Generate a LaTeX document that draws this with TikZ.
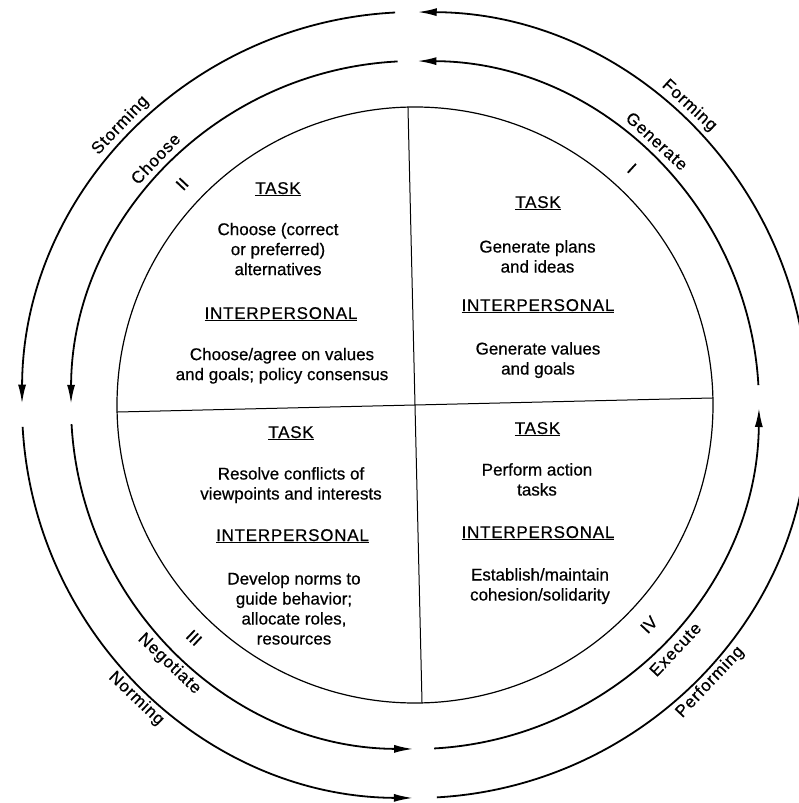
\documentclass[tikz,border=0pt]{standalone}
\usepackage{fontspec}
\setmainfont{Liberation Sans}[FakeBold=0.5]
\usetikzlibrary{arrows.meta}
\newcommand\headtext[1]{\underline{\addfontfeature{LetterSpace=4.5}#1}}
\begin{document}
\begin{tikzpicture}[x=1pt,y=1pt,
  every node/.style={font=\fontsize{17}{20}\selectfont, inner sep=0pt},
  ring/.style={line width=1.8pt, -{Latex[length=19pt,width=8pt]}},
  quad/.style={line width=1.2pt},
  divider/.style={line width=1pt},
  head/.style={anchor=base},
  body/.style={anchor=north, align=center},
  ringlabel/.style={font=\fontsize{17}{20}\selectfont\addfontfeature{LetterSpace=5}}]
\useasboundingbox (-415,-398) rectangle (384,405);
\clip (-415,-398) rectangle (384,405);
\fill[white] (-415,-398) rectangle (384,405);
\coordinate (C) at (0,0);
% inner circle and dividers
\draw[quad] (C) circle[radius=298];
\coordinate (vt) at (91.35:298);
\coordinate (vb) at (271.35:298);
\coordinate (hl) at (181.35:298);
\coordinate (hr) at (1.35:298);
\draw[divider] (vt) -- (vb);
\draw[divider] (hl) -- (hr);
% rings with arrows
\foreach \r/\n in {393/o,344/m}{
  \coordinate (\n a) at (3.3:\r);
  \coordinate (\n b) at (92.9:\r);
  \coordinate (\n c) at (183.2:\r);
  \coordinate (\n d) at (273.2:\r);
  \draw[ring] (\n a) arc[start angle=3.3, end angle=89.6, radius=\r];
  \draw[ring] (\n b) arc[start angle=92.9, end angle=179.8, radius=\r];
  \draw[ring] (\n c) arc[start angle=183.2, end angle=269.7, radius=\r];
  \draw[ring] (\n d) arc[start angle=273.2, end angle=359.5, radius=\r];
}
% ring labels
\node[ringlabel, rotate=-42.5] (forming) at (47.5:406) {Forming};
\node[ringlabel, rotate=-42.5] (generate) at (47.5:358) {Generate};
\node[rotate=-42.5] (n1) at (47.5:321) {I};
\node[ringlabel, rotate=46.5] (storming) at (136.5:406) {Storming};
\node[ringlabel, rotate=46.5] (choose) at (136.5:358) {Choose};
\node[rotate=46.5] (n2) at (136.5:321) {II};
\node[ringlabel, rotate=-43.5] (norming) at (226.5:405) {Norming};
\node[ringlabel, rotate=-43.5] (negotiate) at (226.5:357) {Negotiate};
\node[rotate=-43.5] (n3) at (226.5:321) {III};
\node[ringlabel, rotate=46.8] (performing) at (-43.2:405) {Performing};
\node[ringlabel, rotate=46.8] (execute) at (-43.2:357) {Execute};
\node[rotate=46.8] (n4) at (-43.2:321) {IV};
% quadrant II
\node[head] (t2) at (-137,211) {\headtext{TASK}};
\node[body] (b2) at (-137,182.4) {Choose (correct\\or preferred)\\alternatives};
\node[head] (i2) at (-134,86) {\headtext{INTERPERSONAL}};
\node[body] (c2) at (-133,57.4) {Choose/agree on values\\and goals; policy consensus};
% quadrant I
\node[head] (t1) at (123,197) {\headtext{TASK}};
\node[body] (b1) at (122.5,165) {Generate plans\\and ideas};
\node[head] (i1) at (123,94) {\headtext{INTERPERSONAL}};
\node[body] (c1) at (123,63) {Generate values\\and goals};
% quadrant III
\node[head] (t3) at (-124,-33) {\headtext{TASK}};
\node[body] (b3) at (-124,-62) {Resolve conflicts of\\viewpoints and interests};
\node[head] (i3) at (-122.5,-136) {\headtext{INTERPERSONAL}};
\node[body] (c3) at (-121,-167) {Develop norms to\\guide behavior;\\allocate roles,\\resources};
% quadrant IV
\node[head] (t4) at (122.5,-29) {\headtext{TASK}};
\node[body] (b4) at (122,-58) {Perform action\\tasks};
\node[head] (i4) at (123,-133) {\headtext{INTERPERSONAL}};
\node[body] (c4) at (125,-163) {Establish/maintain\\cohesion/solidarity};
\end{tikzpicture}
\end{document}
